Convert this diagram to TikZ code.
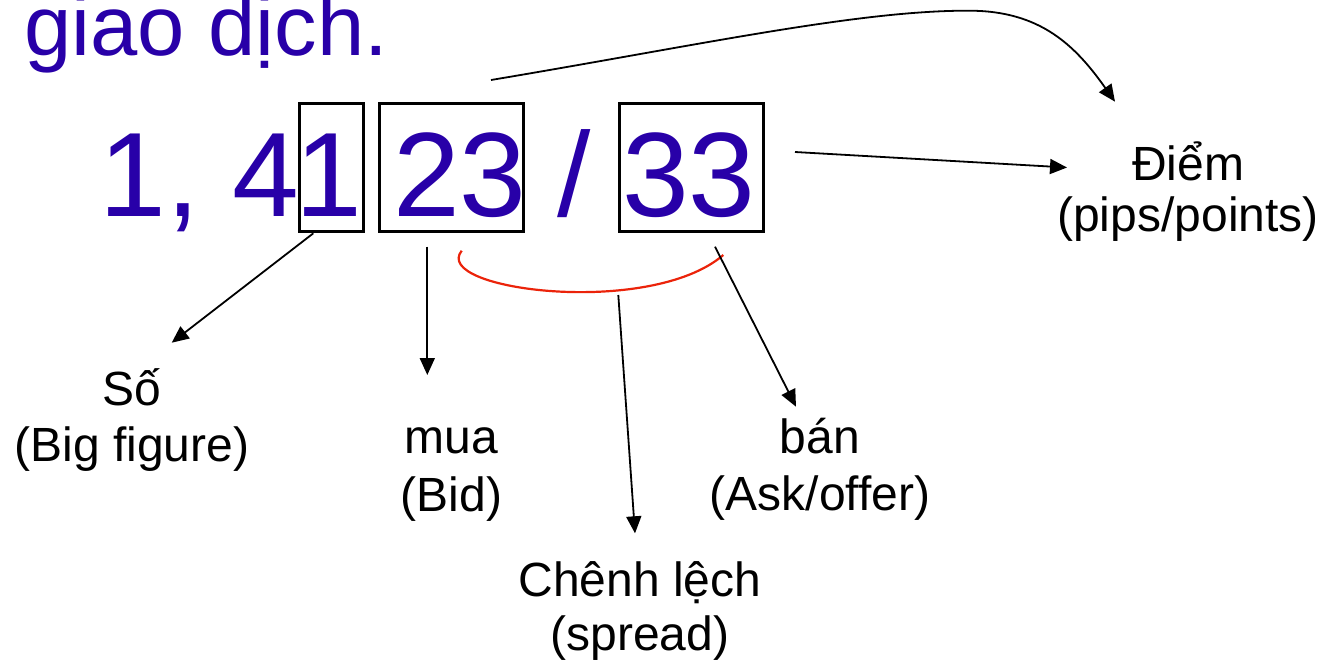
\documentclass[tikz,border=0pt]{standalone}
\usepackage{fontspec}
\setmainfont{Liberation Sans}
\usetikzlibrary{arrows.meta}
\definecolor{numblue}{RGB}{40,0,168}
\definecolor{spreadred}{RGB}{235,35,10}
\begin{document}
\begin{tikzpicture}[x=1pt,y=-1pt,
  num/.style={text=numblue,font=\fontsize{120}{144}\selectfont,inner sep=0pt,outer sep=0pt,anchor=base},
  digitbox/.style={draw=black,line width=3pt,inner sep=0pt,outer sep=0pt,minimum height=127.7pt},
  lbl/.style={font=\fontsize{48}{#1}\selectfont,align=center,inner sep=0pt,outer sep=0pt,anchor=base},
  lbl/.default=56.7,
  conn/.style={draw=black,line width=1.8pt,-{Triangle[length=17pt,width=15pt]}},
  spreadarc/.style={draw=spreadred,line width=2.2pt}
]
\useasboundingbox (0,0) rectangle (1332,662);

% title
\node[text=numblue,font=\fontsize{85}{100}\selectfont,inner sep=0pt,anchor=base west] (title) at (24,55.5) {giao dịch.};

% quote
\node[num,anchor=base west] (lead) at (99.6,216.7) {1, 4};
\node[digitbox,minimum width=64.3pt] (box1) at (331.15,167.15) {};
\node[digitbox,minimum width=144pt] (box2) at (451.3,167.15) {};
\node[digitbox,minimum width=144pt] (box3) at (691.3,167.15) {};
\node[num] (d1) at (329,216.7) {1};
\node[num] (d23) at (459.8,216.7) {23};
\node[num] (slash) at (574.4,216.7) {/};
\node[num] (d33) at (689,216.7) {33};

% labels (anchor = baseline of the last line)
\node[lbl=56.7] (so) at (132,461.7) {Số\\(Big figure)};
\node[lbl=58.4] (mua) at (451.5,511.7) {mua\\(Bid)};
\node[lbl=56.7] (ban) at (820,510) {bán\\(Ask/offer)};
\node[lbl=53.3] (chenh) at (640,650) {Chênh lệch\\(spread)};
\node[lbl=51.7] (diem) at (1188,231.7) {Điểm\\(pips/points)};

% connector ends
\coordinate (soS) at (313.3,233.3);   \coordinate (soE) at (171.7,342.7);
\coordinate (muaS) at (427.3,246.7);  \coordinate (muaE) at (427.3,375);
\coordinate (spS) at (618.3,295);     \coordinate (spE) at (635,533.3);
\coordinate (banS) at (715,246.7);    \coordinate (banE) at (796,406.7);
\coordinate (dmS) at (795,152);       \coordinate (dmE) at (1067,167.5);
\coordinate (cvS) at (491,80);        \coordinate (cvM) at (970,10.7);
\coordinate (cvE) at (1115,101.7);
\coordinate (arcL) at (461.7,250.7);  \coordinate (arcR) at (723.3,255);

% spread arc
\draw[spreadarc] (arcL) .. controls (430,290) and (650,318) .. (arcR);

% connectors
\draw[conn] (soS) -- (soE);
\draw[conn] (muaS) -- (muaE);
\draw[conn] (spS) -- (spE);
\draw[conn] (banS) -- (banE);
\draw[conn] (dmS) -- (dmE);
\draw[conn] (cvS) .. controls (700,45) and (860,10) .. (cvM) .. controls (1040,11) and (1075,45) .. (cvE);
\end{tikzpicture}
\end{document}
